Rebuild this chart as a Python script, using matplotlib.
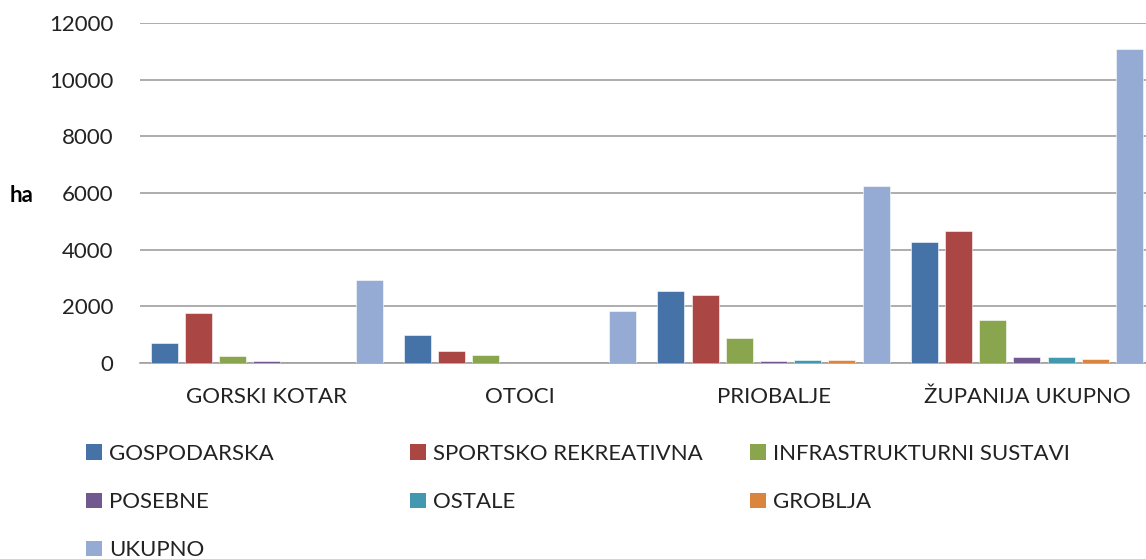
import numpy as np
import matplotlib.pyplot as plt
from matplotlib.patches import Patch

# podaci (ha)
categories = ["GORSKI KOTAR", "OTOCI", "PRIOBALJE", "ŽUPANIJA UKUPNO"]
series_names = ["GOSPODARSKA", "SPORTSKO REKREATIVNA", "INFRASTRUKTURNI SUSTAVI",
                "POSEBNE", "OSTALE", "GROBLJA", "UKUPNO"]
gospodarska = [720, 980, 2530, 4280]
sportsko = [1760, 440, 2390, 4670]
infrastruktura = [250, 295, 890, 1530]
posebne = [70, 0, 60, 200]
ostale = [0, 0, 100, 200]
groblja = [0, 0, 100, 150]
ukupno = [2940, 1850, 6250, 11070]

values = [gospodarska, sportsko, infrastruktura, posebne, ostale, groblja, ukupno]
colors = ["#4572A7", "#AA4643", "#89A54E", "#71588F", "#4198AF", "#DB843D", "#95ABD3"]

plt.rcParams['font.family'] = ['Lato', 'DejaVu Sans']

fig = plt.figure(figsize=(11.46, 5.59), dpi=100)
ax = fig.add_axes([140 / 1146, 1 - 363 / 559, 1006 / 1146, 340 / 559])

x = np.arange(len(categories))
step = 0.135
width = 0.106
for i, (vals, col) in enumerate(zip(values, colors)):
    ax.bar(x + (i - 3) * step, vals, width, color=col, edgecolor="white", linewidth=0.4,
           zorder=3)

ax.set_xlim(-0.5, 3.47)
ax.set_ylim(0, 12000)
ax.set_yticks(np.arange(0, 12001, 2000))
ax.set_xticks(x)
ax.set_xticklabels(categories)
ax.tick_params(axis="both", length=0, labelsize=16, colors="#222222")
ax.tick_params(axis="x", pad=17)
ax.tick_params(axis="y", pad=19)
ax.grid(axis="y", color="#a0a0a0", linewidth=1.2, zorder=0)
for s in ["top", "right", "left"]:
    ax.spines[s].set_visible(False)
ax.spines["bottom"].set_color("#a0a0a0")
ax.spines["bottom"].set_linewidth(1.2)

fig.text(22 / 1146, 1 - 195 / 559, "ha", fontsize=16, fontweight="bold",
         ha="center", va="center")

# legenda u tri stupca
handles = [Patch(facecolor=c) for c in colors]
columns = [[0, 3, 6], [1, 4], [2, 5]]
col_x = [86, 410, 750]
for idx, cx in zip(columns, col_x):
    fig.legend([handles[k] for k in idx], [series_names[k] for k in idx],
               loc="upper left", bbox_to_anchor=(cx / 1146, 1 - 444 / 559),
               frameon=False, fontsize=16, handlelength=0.7, handleheight=0.7,
               handletextpad=0.35, labelspacing=1.27, borderpad=0, borderaxespad=0,
               labelcolor="#222222")

fig.savefig("out.png", dpi=100)
